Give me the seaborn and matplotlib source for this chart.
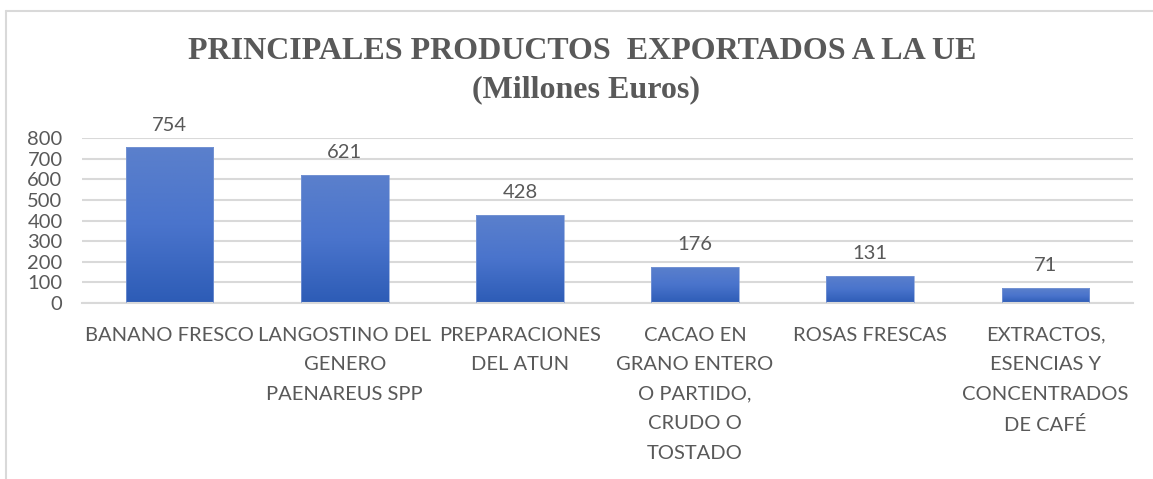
import numpy as np
import pandas as pd
import seaborn as sns
import matplotlib.pyplot as plt
from matplotlib.lines import Line2D
from matplotlib.colors import LinearSegmentedColormap

# data
productos = ["BANANO FRESCO", "LANGOSTINO DEL\nGENERO\nPAENAREUS SPP", "PREPARACIONES\nDEL ATUN",
             "CACAO EN\nGRANO ENTERO\nO PARTIDO,\nCRUDO O\nTOSTADO", "ROSAS FRESCAS",
             "EXTRACTOS,\nESENCIAS Y\nCONCENTRADOS\nDE CAFÉ"]
valores = [754, 621, 428, 176, 131, 71]
yticks = [0, 100, 200, 300, 400, 500, 600, 700, 800]

df = pd.DataFrame({"producto": productos, "valor": valores})

sns.set_style("white")
plt.rcParams['font.family'] = ['Lato', 'DejaVu Sans']
gris = "#595959"

fig = plt.figure(figsize=(11.53, 4.79), dpi=100)
ax = fig.add_axes([0.0711, 0.3674, 0.9116, 0.3445])

sns.barplot(data=df, x="producto", y="valor", color="#4472c4", width=0.5, ax=ax, zorder=3)

# gradient fill on each bar
grad = np.linspace(0, 1, 256).reshape(-1, 1)
cmap = LinearSegmentedColormap.from_list("azul", ["#2d5cb6", "#4a74cc", "#5b80cc"])
for p in ax.patches:
    x0, y0 = p.get_x(), p.get_y()
    w, h = p.get_width(), p.get_height()
    p.set_facecolor("none")
    p.set_edgecolor("#7f9bd6")
    p.set_linewidth(0.5)
    im = ax.imshow(grad, cmap=cmap, extent=[x0, x0 + w, y0, y0 + h], origin="lower",
                   aspect="auto", zorder=2.5)
    im.set_clip_path(p)
    ax.annotate(f"{int(h)}", (x0 + w / 2, h), xytext=(0, 10), textcoords="offset points",
                ha="center", va="bottom", fontsize=14.5, color=gris)

ax.set_xlim(-0.5, len(productos) - 0.5)
ax.set_ylim(0, 800)
ax.set_yticks(yticks)
ax.yaxis.grid(True, color="#d9d9d9", linewidth=1.5, zorder=0)
ax.set_axisbelow(True)
for s in ["top", "right", "left"]:
    ax.spines[s].set_visible(False)
ax.spines["bottom"].set_color("#d9d9d9")
ax.spines["bottom"].set_linewidth(1.5)
ax.tick_params(axis="both", length=0, colors=gris, labelsize=14.5)
ax.tick_params(axis="x", pad=17)
ax.tick_params(axis="y", pad=14)
for lbl in ax.get_xticklabels():
    lbl.set_linespacing(1.9)
ax.set_xlabel("")
ax.set_ylabel("")

fig.text(0.505, 0.893, "PRINCIPALES PRODUCTOS  EXPORTADOS A LA UE", ha="center", va="center",
         family="Liberation Serif", fontweight="bold", fontsize=23, color=gris)
fig.text(0.508, 0.813, "(Millones Euros)", ha="center", va="center",
         family="Liberation Serif", fontweight="bold", fontsize=23, color=gris)

# outer frame lines
fig.add_artist(Line2D([0.0052, 0.0052], [0, 0.977], color="#d9d9d9", lw=1.5, transform=fig.transFigure))
fig.add_artist(Line2D([0.0052, 1], [0.977, 0.977], color="#d9d9d9", lw=1.5, transform=fig.transFigure))

fig.savefig("out.png", dpi=100)
